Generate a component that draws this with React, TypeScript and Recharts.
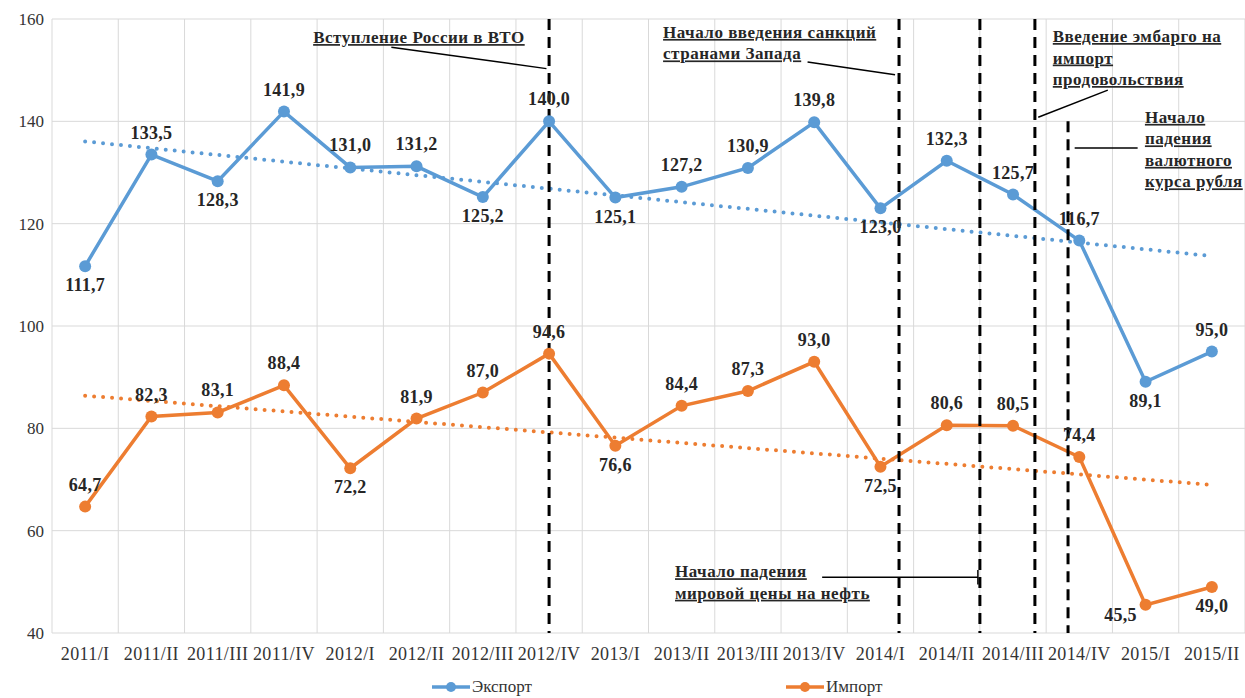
import { LineChart, Line, XAxis, YAxis, CartesianGrid, ReferenceLine, ReferenceDot, LabelList } from "recharts";

const quarters = [
  "2011/I", "2011/II", "2011/III", "2011/IV",
  "2012/I", "2012/II", "2012/III", "2012/IV",
  "2013/I", "2013/II", "2013/III", "2013/IV",
  "2014/I", "2014/II", "2014/III", "2014/IV",
  "2015/I", "2015/II",
];
const exportValues = [111.7, 133.5, 128.3, 141.9, 131.0, 131.2, 125.2, 140.0, 125.1, 127.2, 130.9, 139.8, 123.0, 132.3, 125.7, 116.7, 89.1, 95.0];
const importValues = [64.7, 82.3, 83.1, 88.4, 72.2, 81.9, 87.0, 94.6, 76.6, 84.4, 87.3, 93.0, 72.5, 80.6, 80.5, 74.4, 45.5, 49.0];
const yTicks = [40, 60, 80, 100, 120, 140, 160];

// where each data label sits relative to its point
const exportBelow = [0, 2, 6, 8, 12, 16];
const importBelow = [4, 8, 12, 17];
const importLeft = [16];

// event markers, in quarter-index units
const events = [
  { x: 7, top: 160 },
  { x: 12.28, top: 160 },
  { x: 13.5, top: 160 },
  { x: 14.33, top: 160 },
  { x: 14.83, top: 140 },
];

const notes = [
  { x: 3.44, y: 155.3, lines: ["Вступление России в ВТО"], from: [4.62, 154.5], to: [6.96, 150.3] },
  { x: 8.72, y: 156.3, lines: ["Начало введения санкций", "странами Запада"], from: [10.9, 151.6], to: [12.22, 149.1] },
  { x: 14.6, y: 155.5, lines: ["Введение эмбарго на", "импорт", "продовольствия"], from: [15.43, 146.1], to: [14.38, 140.8] },
  { x: 15.99, y: 139.7, lines: ["Начало", "падения", "валютного", "курса рубля"], from: [14.93, 134.8], to: [15.88, 134.8] },
  { x: 8.9, y: 50.9, lines: ["Начало падения", "мировой цены на нефть"], from: [11.12, 50.9], to: [13.47, 50.9] },
];

function trend(values: number[]) {
  const n = values.length;
  const mx = (n - 1) / 2;
  const my = values.reduce((a, b) => a + b, 0) / n;
  let num = 0;
  let den = 0;
  values.forEach((v, i) => {
    num += (i - mx) * (v - my);
    den += (i - mx) * (i - mx);
  });
  const k = num / den;
  return values.map((_, i) => my + k * (i - mx));
}

const exportTrend = trend(exportValues);
const importTrend = trend(importValues);

const data = quarters.map((q, i) => ({
  idx: i,
  q,
  exp: exportValues[i],
  imp: importValues[i],
  expTrend: exportTrend[i],
  impTrend: importTrend[i],
}));

const SERIF = "Liberation Serif, serif";
const BLUE = "#5b9bd5";
const ORANGE = "#ed7d31";

const fmt = (v: number) => v.toFixed(1).replace(".", ",");

const makeLabel = (below: number[], left: number[] = []) => (props: any) => {
  const { x, y, value, index } = props;
  let lx = x;
  let ly = y - 16;
  if (below.includes(index)) ly = y + 25;
  if (left.includes(index)) {
    lx = x - 25;
    ly = y + 16;
  }
  return (
    <text
      x={lx}
      y={ly}
      textAnchor="middle"
      fontFamily={SERIF}
      fontWeight="bold"
      fontSize={18}
      letterSpacing={0.3}
      fill="#262626"
    >
      {fmt(Number(value))}
    </text>
  );
};

const noteShape = (lines: string[]) => (props: any) => (
  <text
    x={props.cx}
    y={props.cy}
    fontFamily={SERIF}
    fontWeight="bold"
    fontSize={17}
    letterSpacing={0.5}
    fill="#262626"
    style={{ textDecoration: "underline" }}
  >
    {lines.map((l, i) => (
      <tspan key={i} x={props.cx} dy={i === 0 ? 0 : 21.5}>
        {l}
      </tspan>
    ))}
  </text>
);

export default function App() {
  const gridXs = quarters.map((_, i) => i - 0.5).concat([quarters.length - 0.5]);

  return (
    <div style={{ position: "absolute", left: 0, top: 0, width: 1245, height: 698, background: "#fff" }}>
      <LineChart width={1245} height={698} data={data} margin={{ top: 19, right: 0, bottom: 0, left: 0 }}>
        <CartesianGrid vertical={false} stroke="#d9d9d9" />
        {gridXs.map((gx) => (
          <ReferenceLine key={"g" + gx} x={gx} stroke="#d9d9d9" strokeWidth={1} />
        ))}
        <XAxis
          type="number"
          dataKey="idx"
          domain={[-0.5, quarters.length - 0.5]}
          ticks={quarters.map((_, i) => i)}
          tickFormatter={(i: number) => quarters[i]}
          interval={0}
          axisLine={false}
          tickLine={false}
          tickSize={0}
          tickMargin={14}
          height={65}
          tick={{ fontSize: 18, fill: "#333", fontFamily: SERIF, letterSpacing: 0.4 }}
        />
        <YAxis
          domain={[40, 160]}
          ticks={yTicks}
          width={52}
          axisLine={false}
          tickLine={false}
          tickSize={0}
          tickMargin={8}
          tick={{ fontSize: 17, fill: "#333", fontFamily: SERIF }}
        />
        <Line
          dataKey="expTrend"
          stroke={BLUE}
          strokeWidth={4}
          strokeDasharray="0 9"
          strokeLinecap="round"
          dot={false}
          activeDot={false}
          isAnimationActive={false}
        />
        <Line
          dataKey="impTrend"
          stroke={ORANGE}
          strokeWidth={4}
          strokeDasharray="0 9"
          strokeLinecap="round"
          dot={false}
          activeDot={false}
          isAnimationActive={false}
        />
        <Line
          dataKey="exp"
          stroke={BLUE}
          strokeWidth={3.5}
          dot={{ r: 6, fill: BLUE, stroke: "none" }}
          activeDot={false}
          isAnimationActive={false}
        >
          <LabelList dataKey="exp" content={makeLabel(exportBelow)} />
        </Line>
        <Line
          dataKey="imp"
          stroke={ORANGE}
          strokeWidth={3.5}
          dot={{ r: 6, fill: ORANGE, stroke: "none" }}
          activeDot={false}
          isAnimationActive={false}
        >
          <LabelList dataKey="imp" content={makeLabel(importBelow, importLeft)} />
        </Line>
        {events.map((e) => (
          <ReferenceLine
            key={"e" + e.x}
            segment={[{ x: e.x, y: e.top }, { x: e.x, y: 40 }]}
            stroke="#000"
            strokeWidth={3}
            strokeDasharray="11 7"
          />
        ))}
        {notes.map((n, i) => (
          <ReferenceLine
            key={"l" + i}
            segment={[{ x: n.from[0], y: n.from[1] }, { x: n.to[0], y: n.to[1] }]}
            stroke="#000"
            strokeWidth={1.5}
          />
        ))}
        <ReferenceLine segment={[{ x: 13.47, y: 52.3 }, { x: 13.47, y: 49.5 }]} stroke="#000" strokeWidth={1.5} />
        {notes.map((n, i) => (
          <ReferenceDot key={"n" + i} x={n.x} y={n.y} r={0} ifOverflow="visible" shape={noteShape(n.lines)} />
        ))}
      </LineChart>
      <div
        style={{
          position: "absolute",
          top: 677,
          left: 0,
          width: 1245,
          fontFamily: SERIF,
          fontSize: 17,
          color: "#333",
        }}
      >
        {[
          { name: "Экспорт", color: BLUE, left: 432 },
          { name: "Импорт", color: ORANGE, left: 786 },
        ].map((s) => (
          <div key={s.name} style={{ position: "absolute", left: s.left, display: "flex", alignItems: "center" }}>
            <svg width={38} height={14}>
              <line x1={0} y1={7} x2={38} y2={7} stroke={s.color} strokeWidth={3.5} />
              <circle cx={19} cy={7} r={5} fill={s.color} />
            </svg>
            <span style={{ marginLeft: 2 }}>{s.name}</span>
          </div>
        ))}
      </div>
    </div>
  );
}
